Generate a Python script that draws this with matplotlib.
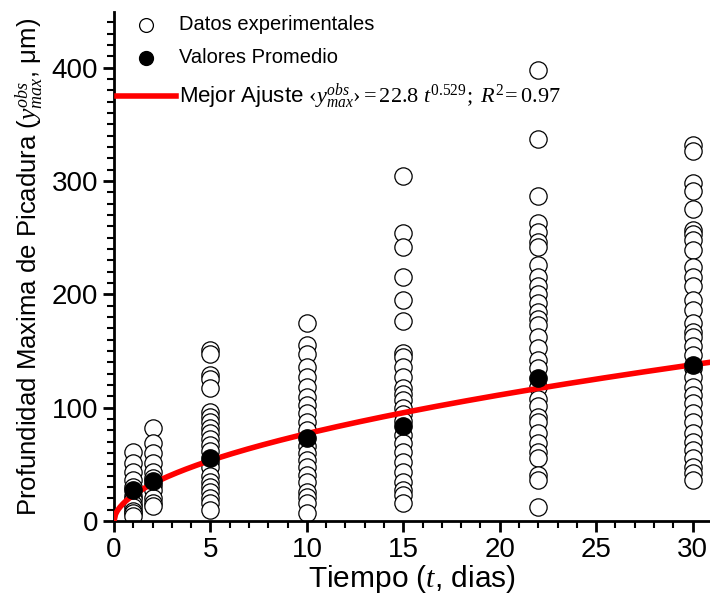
import numpy as np
import matplotlib
matplotlib.use('Agg')
import matplotlib.pyplot as plt
from matplotlib.ticker import MultipleLocator

plt.rcParams['font.family'] = ['Liberation Sans', 'DejaVu Sans']
plt.rcParams['mathtext.fontset'] = 'custom'
plt.rcParams['mathtext.rm'] = 'Liberation Serif'
plt.rcParams['mathtext.it'] = 'Liberation Serif:italic'

# datos (dias, um)
t1 = [61, 51, 43, 36, 30, 22, 19, 15, 12, 9, 7, 4]
t2 = [82, 69, 60, 51, 43, 38, 32, 27, 20, 16, 13]
t5 = [151, 147, 129, 125, 117, 96, 92, 87, 82, 78, 72, 67, 62, 52, 48, 40, 34, 30, 26, 20, 16, 10]
t10 = [175, 155, 147, 136, 127, 118, 109, 102, 95, 87, 80, 66, 60, 54, 48, 41, 34, 26, 21, 16, 7]
t15 = [304, 254, 242, 215, 195, 176, 148, 145, 136, 127, 117, 112, 107, 100, 94, 88, 76, 69, 61, 52, 43, 34, 27, 23, 16]
t22 = [398, 337, 287, 263, 255, 246, 242, 226, 215, 207, 200, 192, 184, 178, 173, 162, 153, 142, 135,
       118, 108, 101, 92, 87, 78, 69, 61, 56, 41, 36, 12]
t30 = [332, 326, 298, 291, 275, 257, 253, 248, 239, 224, 215, 207, 195, 186, 175, 167, 162, 154, 146,
       135, 127, 118, 111, 104, 95, 87, 78, 70, 63, 56, 48, 42, 36]

tiempos = [1, 2, 5, 10, 15, 22, 30]
columnas = [t1, t2, t5, t10, t15, t22, t30]
promedios = [27, 35, 56, 73, 84, 126, 138]

a_fit = 22.8
b_fit = 0.529

fig = plt.figure(figsize=(7.1, 6.01), dpi=100)
ax = fig.add_axes([0.1606, 0.1331, 0.8394, 0.847])

xs = np.concatenate([[t] * len(c) for t, c in zip(tiempos, columnas)])
ys = np.concatenate(columnas)
ax.scatter(xs, ys, s=155, facecolors='white', edgecolors='black', linewidths=0.9,
           label='Datos experimentales', zorder=2)
ax.scatter(tiempos, promedios, s=155, color='black', label='Valores Promedio', zorder=4)

tt = np.linspace(0, 31, 400)
ax.plot(tt, a_fit * tt ** b_fit, color='red', lw=4, zorder=3,
        label=r'Mejor Ajuste $‹y_{max}^{obs}› = 22.8\ t^{0.529};\ R^2\!= 0.97$')

ax.set_xlim(0, 30.9)
ax.set_ylim(0, 449)
ax.xaxis.set_major_locator(MultipleLocator(5))
ax.xaxis.set_minor_locator(MultipleLocator(1))
ax.yaxis.set_major_locator(MultipleLocator(100))
ax.yaxis.set_minor_locator(MultipleLocator(10))
ax.spines['top'].set_visible(False)
ax.spines['right'].set_visible(False)
ax.spines['left'].set_linewidth(2)
ax.spines['bottom'].set_linewidth(2)
ax.tick_params(which='major', direction='out', length=8, width=2, labelsize=20)
ax.tick_params(which='minor', direction='out', length=5, width=1.5)

ax.set_xlabel(r'Tiempo ($t$, dias)', fontsize=21.5, labelpad=0)
ax.set_ylabel(r'Profundidad Maxima de Picadura ($y_{max}^{obs}$, μm)', fontsize=18.5, labelpad=4)

leg = ax.legend(loc='upper left', bbox_to_anchor=(-0.025, 1.03), frameon=False, fontsize=14.5,
                handlelength=2.9, handletextpad=0.15, labelspacing=0.72, markerscale=0.8)
for txt in leg.get_texts()[2:]:
    txt.set_fontsize(16)

fig.savefig('out.png', dpi=100)
